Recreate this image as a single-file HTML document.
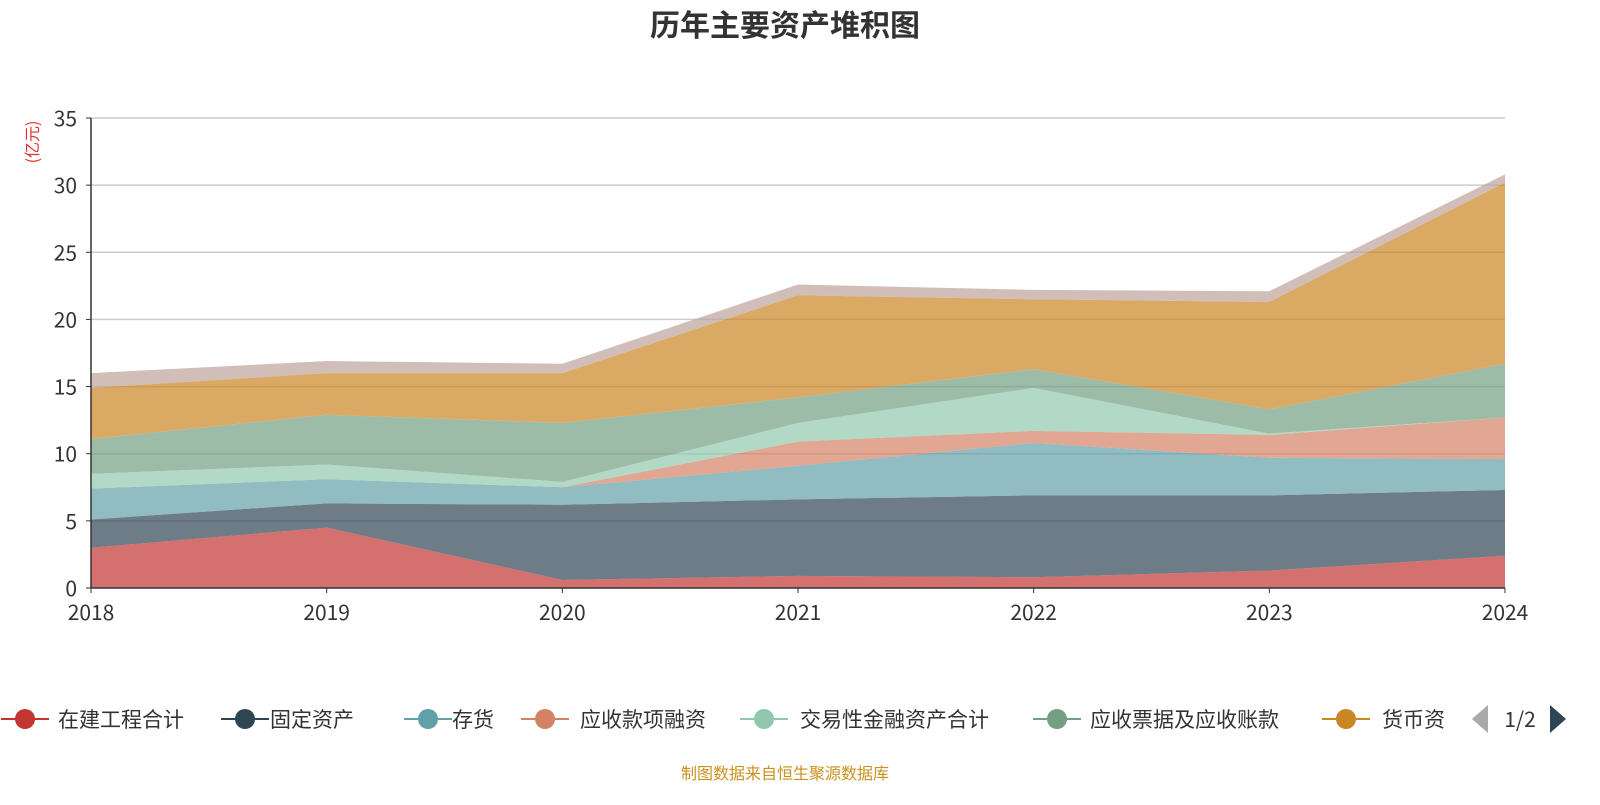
<!DOCTYPE html>
<html><head><meta charset="utf-8"><style>
body{margin:0;background:#fff;}
svg text{font-family:"Noto Sans CJK SC","Liberation Sans",sans-serif;}
</style></head><body>
<svg id="chart" width="1600" height="800">
<text x="785" y="36" text-anchor="middle" font-size="30" font-weight="bold" fill="#333">历年主要资产堆积图</text>
<text transform="translate(38,142) rotate(-90)" text-anchor="middle" font-size="16" fill="#e03030">(亿元)</text>
<g id="grid"></g><g id="areas"></g><g id="axes"></g><g id="legend"></g>
<text x="785" y="779" text-anchor="middle" font-size="16" fill="#c8901e">制图数据来自恒生聚源数据库</text>
</svg>
<script>
const years=['2018','2019','2020','2021','2022','2023','2024'];
const yTicks=[0,5,10,15,20,25,30,35];
const seriesNames=['在建工程合计','固定资产','存货','应收款项融资','交易性金融资产合计','应收票据及应收账款','货币资金','其他'];
const colors=['#c23531','#2f4554','#61a0a8','#d48265','#91c7ae','#749f83','#ca8622','#bda29a'];
const s0=[3.0,4.5,0.6,0.9,0.8,1.3,2.4];
const s1=[2.1,1.8,5.6,5.7,6.1,5.6,4.9];
const s2=[2.3,1.8,1.3,2.5,3.9,2.8,2.3];
const s3=[0,0,0,1.8,0.9,1.7,3.1];
const s4=[1.1,1.1,0.4,1.4,3.2,0.1,0];
const s5=[2.6,3.7,4.4,1.9,1.4,1.8,4.0];
const s6=[3.8,3.1,3.7,7.6,5.2,8.0,13.5];
const s7=[1.1,0.9,0.7,0.8,0.7,0.8,0.6];
const series=[s0,s1,s2,s3,s4,s5,s6,s7];
const NS='http://www.w3.org/2000/svg';
const X0=91,X1=1505,Y0=588,Y1=118,YMAX=35;
const xs=i=>X0+(X1-X0)*i/(years.length-1);
const ys=v=>Y0-(Y0-Y1)*v/YMAX;
function mk(t,a,p){const e=document.createElementNS(NS,t);for(const k in a)e.setAttribute(k,a[k]);p.appendChild(e);return e;}
const grid=document.getElementById('grid'),axes=document.getElementById('axes'),areas=document.getElementById('areas'),legend=document.getElementById('legend');
yTicks.forEach(t=>{
 if(t>0){const l=mk('line',{x1:X0,x2:X1,y1:ys(t),y2:ys(t),stroke:'#ccc','stroke-width':1.5},grid);
 
 }
 const tx=mk('text',{x:X0-14,y:ys(t)+8,'text-anchor':'end','font-size':21,fill:'#333'},axes);tx.textContent=t;
 
 
 mk('line',{x1:X0-5,x2:X0,y1:ys(t),y2:ys(t),stroke:'#333'},axes);
});
mk('line',{x1:X0,x2:X0,y1:Y1,y2:Y0,stroke:'#333','stroke-width':1.5},axes);
mk('line',{x1:X0,x2:X1,y1:Y0,y2:Y0,stroke:'#333','stroke-width':1.5},axes);
years.forEach((y,i)=>{
 mk('line',{x1:xs(i),x2:xs(i),y1:Y0,y2:Y0+5,stroke:'#333'},axes);
 const tx=mk('text',{x:xs(i),y:Y0+32,'text-anchor':'middle','font-size':21,fill:'#333'},axes);tx.textContent=y;
 
 
});
let base=years.map(()=>0);
series.forEach((s,k)=>{
 const top=base.map((b,i)=>b+s[i]);
 let d='M'+top.map((v,i)=>xs(i)+','+ys(v)).join('L');
 for(let i=years.length-1;i>=0;i--)d+='L'+xs(i)+','+ys(base[i]);
 const p=mk('path',{d:d+'Z',fill:colors[k],'fill-opacity':0.7},areas);
 
 
 base=top;
});
const lg=[[25,58],[245,270],[428,452],[545,580],[764,800],[1057,1090],[1346,1382]];
lg.forEach((p,k)=>{
 const g=mk('g',{},legend);
 
 
 mk('line',{x1:p[0]-24,x2:p[0]+24,y1:719,y2:719,stroke:colors[k],'stroke-width':2},g);
 mk('circle',{cx:p[0],cy:719,r:10,fill:colors[k]},g);
 const t=mk('text',{x:p[1],y:727,'font-size':21,fill:'#333'},g);
 t.textContent=k==6?'货币资':seriesNames[k];
});
const pl=mk('path',{d:'M1472,719L1488,705L1488,733Z',fill:'#aaa'},legend);


const pt=mk('text',{x:1520,y:727,'font-size':21,fill:'#333','text-anchor':'middle'},legend);pt.textContent='1/2';


const pr=mk('path',{d:'M1566,719L1550,705L1550,733Z',fill:'#2f4554'},legend);


</script>
</body></html>
